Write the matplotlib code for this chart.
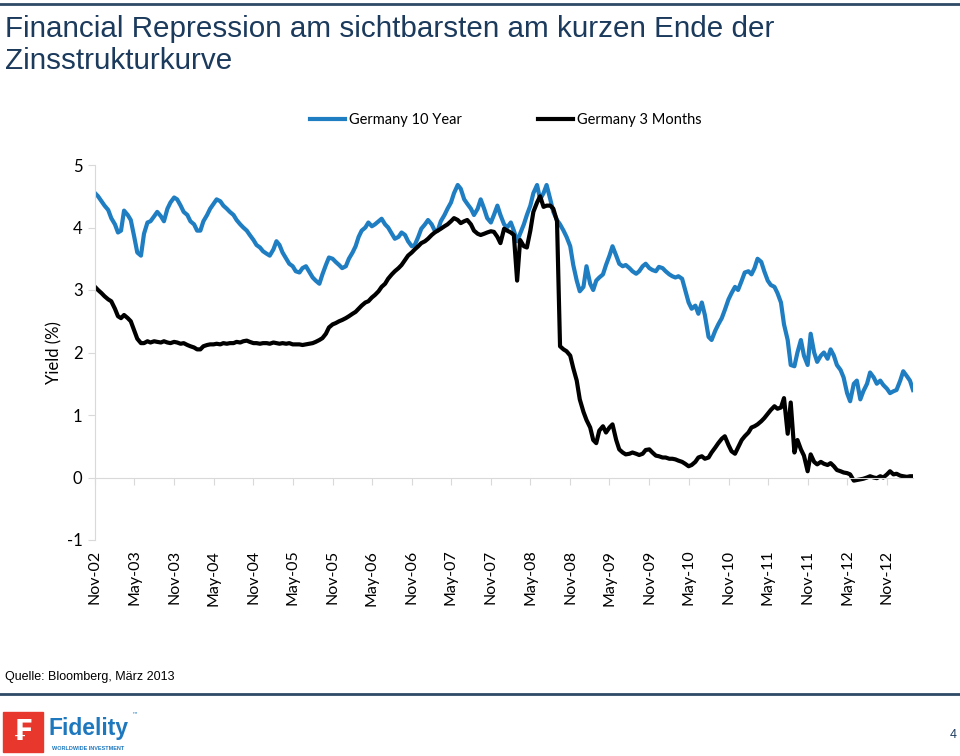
import numpy as np
import pandas as pd
import matplotlib
matplotlib.use("Agg")
import matplotlib.pyplot as plt
import matplotlib.dates as mdates
from matplotlib.patches import Rectangle

# semi-monthly readings, starting 1 Nov 2002
start = "2002-11-01"
bund_10y = [
    4.55, 4.50, 4.42, 4.35, 4.28, 4.15, 4.05, 3.92, 3.95, 4.27,
    4.20, 4.12, 3.85, 3.60, 3.55, 3.90, 4.08, 4.10, 4.18, 4.25,
    4.18, 4.10, 4.30, 4.40, 4.48, 4.45, 4.35, 4.25, 4.20, 4.10,
    4.05, 3.95, 3.95, 4.10, 4.20, 4.30, 4.38, 4.45, 4.42, 4.35,
    4.30, 4.25, 4.20, 4.12, 4.05, 4.00, 3.95, 3.88, 3.80, 3.72,
    3.68, 3.62, 3.58, 3.55, 3.65, 3.78, 3.72, 3.60, 3.50, 3.42,
    3.38, 3.30, 3.28, 3.35, 3.38, 3.30, 3.20, 3.15, 3.10, 3.25,
    3.40, 3.52, 3.50, 3.45, 3.40, 3.35, 3.38, 3.50, 3.60, 3.70,
    3.85, 3.95, 4.00, 4.08, 4.02, 4.05, 4.10, 4.14, 4.05, 4.00,
    3.90, 3.82, 3.85, 3.92, 3.88, 3.78, 3.70, 3.72, 3.85, 3.98,
    4.05, 4.12, 4.05, 3.95, 3.95, 4.10, 4.20, 4.30, 4.40, 4.55,
    4.68, 4.62, 4.45, 4.38, 4.30, 4.20, 4.30, 4.45, 4.30, 4.15,
    4.08, 4.20, 4.35, 4.20, 4.05, 4.00, 4.08, 3.95, 3.78, 3.90,
    4.05, 4.20, 4.35, 4.55, 4.68, 4.45, 4.55, 4.68, 4.45, 4.25,
    4.12, 4.05, 3.95, 3.85, 3.70, 3.40, 3.15, 2.98, 3.05, 3.38,
    3.10, 3.00, 3.15, 3.20, 3.25, 3.40, 3.55, 3.70, 3.55, 3.42,
    3.38, 3.40, 3.35, 3.30, 3.26, 3.30, 3.38, 3.42, 3.35, 3.32,
    3.30, 3.37, 3.35, 3.30, 3.25, 3.22, 3.20, 3.22, 3.18, 3.00,
    2.80, 2.70, 2.75, 2.62, 2.80, 2.60, 2.25, 2.20, 2.35, 2.45,
    2.55, 2.68, 2.85, 2.95, 3.05, 3.00, 3.15, 3.28, 3.30, 3.25,
    3.35, 3.50, 3.45, 3.30, 3.15, 3.08, 3.05, 2.95, 2.80, 2.45,
    2.20, 1.80, 1.78, 2.00, 2.20, 1.95, 1.80, 2.30, 2.00, 1.85,
    1.95, 2.00, 1.90, 2.05, 1.95, 1.80, 1.72, 1.60, 1.35, 1.22,
    1.50, 1.55, 1.25, 1.38, 1.50, 1.68, 1.60, 1.50, 1.55, 1.48,
    1.42, 1.35, 1.38, 1.40, 1.55, 1.70, 1.62, 1.55, 1.40,
]
bund_3m = [
    3.05, 3.00, 2.95, 2.90, 2.85, 2.82, 2.70, 2.58, 2.55, 2.60,
    2.55, 2.50, 2.35, 2.22, 2.15, 2.15, 2.18, 2.16, 2.18, 2.17,
    2.16, 2.18, 2.16, 2.15, 2.17, 2.16, 2.14, 2.15, 2.12, 2.10,
    2.08, 2.05, 2.05, 2.10, 2.12, 2.13, 2.13, 2.14, 2.13, 2.15,
    2.14, 2.15, 2.15, 2.17, 2.16, 2.18, 2.19, 2.17, 2.15, 2.15,
    2.14, 2.15, 2.15, 2.14, 2.16, 2.15, 2.14, 2.15, 2.14, 2.15,
    2.13, 2.13, 2.13, 2.12, 2.13, 2.14, 2.15, 2.17, 2.20, 2.23,
    2.30, 2.40, 2.45, 2.47, 2.50, 2.52, 2.55, 2.58, 2.62, 2.65,
    2.70, 2.75, 2.80, 2.82, 2.88, 2.92, 2.98, 3.05, 3.10, 3.18,
    3.25, 3.30, 3.35, 3.40, 3.48, 3.55, 3.60, 3.65, 3.70, 3.75,
    3.78, 3.82, 3.88, 3.92, 3.95, 3.98, 4.02, 4.05, 4.10, 4.15,
    4.12, 4.07, 4.10, 4.12, 4.05, 3.95, 3.90, 3.88, 3.90, 3.92,
    3.94, 3.93, 3.85, 3.75, 3.98, 3.95, 3.92, 3.88, 3.15, 3.80,
    3.70, 3.68, 3.95, 4.25, 4.40, 4.50, 4.33, 4.35, 4.35, 4.30,
    4.10, 2.10, 2.05, 2.02, 1.95, 1.75, 1.55, 1.25, 1.05, 0.92,
    0.80, 0.60, 0.55, 0.75, 0.82, 0.72, 0.80, 0.85, 0.60, 0.45,
    0.40, 0.37, 0.38, 0.40, 0.38, 0.36, 0.38, 0.44, 0.45, 0.40,
    0.35, 0.34, 0.32, 0.32, 0.30, 0.30, 0.29, 0.27, 0.25, 0.22,
    0.18, 0.20, 0.25, 0.32, 0.34, 0.30, 0.32, 0.40, 0.48, 0.55,
    0.62, 0.66, 0.52, 0.42, 0.38, 0.48, 0.60, 0.66, 0.72, 0.80,
    0.82, 0.85, 0.90, 0.95, 1.02, 1.08, 1.14, 1.10, 1.12, 1.27,
    0.70, 1.20, 0.40, 0.60, 0.45, 0.35, 0.10, 0.37, 0.25, 0.21,
    0.25, 0.22, 0.20, 0.23, 0.18, 0.12, 0.10, 0.08, 0.07, 0.05,
    -0.05, -0.04, -0.03, -0.02, 0.00, 0.02, 0.00, -0.01, 0.02, 0.00,
    0.05, 0.10, 0.05, 0.06, 0.03, 0.02, 0.01, 0.02, 0.02,
]
tick_labels = ["Nov-02", "May-03", "Nov-03", "May-04", "Nov-04", "May-05",
               "Nov-05", "May-06", "Nov-06", "May-07", "Nov-07", "May-08",
               "Nov-08", "May-09", "Nov-09", "May-10", "Nov-10", "May-11",
               "Nov-11", "May-12", "Nov-12"]

dates_10y = pd.date_range(start, periods=len(bund_10y), freq="SMS")
dates_3m = pd.date_range(start, periods=len(bund_3m), freq="SMS")
tick_dates = pd.to_datetime(tick_labels, format="%b-%y")

BLUE = "#1f7dc2"
NAVY = "#1b3a5c"
GRID = "#d9d9d9"
LOGO_BLUE = "#1e78be"

plt.rcParams["font.family"] = ["Lato", "DejaVu Sans"]
plt.rcParams["axes.unicode_minus"] = False

fig = plt.figure(figsize=(9.6, 7.56), dpi=100)
ax = fig.add_axes([95 / 960, (756 - 540) / 756, (913 - 95) / 960, 375 / 756])

ax.plot(dates_10y, bund_10y, color=BLUE, lw=3, label="Germany 10 Year")
ax.plot(dates_3m, bund_3m, color="black", lw=3, label="Germany 3 Months")

ax.set_ylim(-1, 5)
ax.set_yticks(range(-1, 6))
ax.set_xlim(dates_3m[0], dates_3m[-1])
ax.set_ylabel("Yield (%)", fontsize=12, labelpad=3)

for side in ["top", "right"]:
    ax.spines[side].set_visible(False)
ax.spines["left"].set_color(GRID)
ax.spines["bottom"].set_color(GRID)
ax.spines["bottom"].set_position(("data", 0))
ax.tick_params(axis="y", length=5, color=GRID, labelsize=12, pad=4)
ax.set_xticks(mdates.date2num(tick_dates))
ax.tick_params(axis="x", length=5, color=GRID, labelbottom=False)

# month labels sit below the plot, not on the zero line
sec = ax.secondary_xaxis(0)
sec.set_xticks(mdates.date2num(tick_dates), tick_labels, rotation=90)
sec.tick_params(length=0, labelsize=11.5, pad=7)
sec.spines["bottom"].set_visible(False)

fig.legend(loc="center", bbox_to_anchor=(506 / 960, 1 - 120 / 756), ncol=2,
           frameon=False, fontsize=10.5, handlelength=2.4, columnspacing=5.2,
           handletextpad=0.3)

# slide chrome
title_font = ["Liberation Sans Narrow", "Liberation Sans"]
fig.add_artist(plt.Line2D([0, 1], [1 - 4 / 756, 1 - 4 / 756], color="#2e4a66", lw=2))
fig.add_artist(plt.Line2D([0, 1], [1 - 694 / 756, 1 - 694 / 756], color="#2e4a66", lw=2))
fig.text(5 / 960, 1 - 29 / 756, "Financial Repression am sichtbarsten am kurzen Ende der",
         family=title_font, fontsize=21.3, color=NAVY, va="center")
fig.text(5 / 960, 1 - 61 / 756, "Zinsstrukturkurve",
         family=title_font, fontsize=21.3, color=NAVY, va="center")
fig.text(5 / 960, 1 - 677 / 756, "Quelle: Bloomberg, März 2013",
         family="Liberation Sans", fontsize=9, va="center")

fig.add_artist(Rectangle((3 / 960, 1 - 752 / 756), 40 / 960, 40 / 756,
                         color="#e8382d", transform=fig.transFigure))
fig.text(23 / 960, 1 - 732 / 756, "₣", color="white", fontsize=20,
         weight="bold", family="DejaVu Sans", ha="center", va="center")
fig.text(49 / 960, 1 - 728 / 756, "Fidelity", color=LOGO_BLUE, fontsize=16.5,
         weight="bold", family="Liberation Sans", va="center")
fig.text(52 / 960, 1 - 748 / 756, "WORLDWIDE INVESTMENT", color=LOGO_BLUE,
         fontsize=4, weight="bold", family="Liberation Sans", va="center")
fig.text(131 / 960, 1 - 716 / 756, "™", color=LOGO_BLUE, fontsize=4.5,
         family="DejaVu Sans", va="center")
fig.text(953 / 960, 1 - 735 / 756, "4", color=NAVY, fontsize=9,
         family="Liberation Sans", ha="center", va="center")

fig.savefig("out.png", dpi=100)
